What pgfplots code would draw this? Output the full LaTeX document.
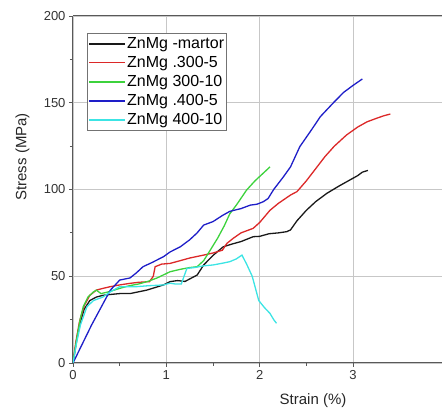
\documentclass[border=0pt]{standalone}
\usepackage{pgfplots}
\pgfplotsset{compat=1.18}
\usepackage{fontspec}
\setmainfont{Liberation Sans}

\definecolor{cMart}{RGB}{25,25,25}
\definecolor{cRed}{RGB}{220,40,40}
\definecolor{cGreen}{RGB}{60,210,60}
\definecolor{cBlue}{RGB}{30,30,200}
\definecolor{cCyan}{RGB}{60,228,228}

\begin{document}
\begin{tikzpicture}
\begin{axis}[
    scale only axis,
    width=368.7pt, height=347pt,
    xmin=0, xmax=3.95, ymin=0, ymax=200,
    xtick={0,1,2,3}, ytick={0,50,100,150,200},
    minor x tick num=1, minor y tick num=1,
    axis x line=box, axis y line=left,
    axis line style={-, draw=black!65, line width=1pt},
    tick align=outside, xtick pos=bottom,
    major tick length=4pt, minor tick length=3pt,
    every tick/.style={draw=black!65, line width=0.8pt},
    grid=major,
    major grid style={draw=black!22, line width=0.9pt},
    tick label style={font=\fontsize{13}{15}\selectfont, text=black!80},
    /pgf/number format/assume math mode=true,
    xlabel={Strain (\%)}, ylabel={Stress (MPa)},
    label style={font=\fontsize{15}{18}\selectfont, text=black!85},
    xlabel style={at={(rel axis cs:0.651,-0.108)}, anchor=center},
    ylabel style={at={(rel axis cs:-0.137,0.594)}, anchor=center},
    legend style={at={(rel axis cs:0.038,0.951)}, anchor=north west,
      draw=black!55, line width=0.8pt, inner xsep=1pt, inner ysep=1pt,
      font=\fontsize{16}{19}\selectfont,
      nodes={inner xsep=1.5pt, inner ysep=3.2pt}},
    legend cell align=left,
    legend image code/.code={\draw[#1, line width=1.3pt] (0pt,0pt) -- (36pt,0pt);},
    every axis plot/.append style={line width=1.3pt},
]
\addplot[color=cMart] coordinates {
(0,0)(0.03,10)(0.07,22)(0.12,31)(0.18,36)(0.25,38)(0.32,39)(0.4,39.5)
(0.5,40)(0.61,40)(0.7,41)(0.79,42)(0.88,43.5)(0.97,45)(1.04,46.9)
(1.12,47.5)(1.2,47)(1.27,49)(1.33,50.7)(1.4,56.5)(1.5,62)(1.61,67)
(1.7,68.5)(1.8,70)(1.93,72.8)(2.0,73)(2.1,74.5)(2.2,75)(2.29,75.7)
(2.33,76.7)(2.4,82)(2.5,88)(2.6,93)(2.72,97.8)(2.85,102)(2.95,105)
(3.05,108)(3.1,110)(3.16,111)};
\addlegendentry{ZnMg -martor}
\addplot[color=cRed] coordinates {
(0,0)(0.03,12)(0.07,24)(0.12,33)(0.18,39)(0.25,42)(0.32,43)(0.4,44)
(0.5,45)(0.61,45.9)(0.7,46.5)(0.82,46.9)(0.86,50)(0.88,55.5)(0.95,57)
(1.04,57.4)(1.15,59)(1.25,60.5)(1.4,62.2)(1.5,63.4)(1.6,65)(1.65,69)
(1.72,72)(1.8,75)(1.93,77.6)(2.0,81)(2.11,88)(2.2,92)(2.33,96.8)
(2.4,98.8)(2.5,105)(2.6,112)(2.7,119)(2.8,125)(2.93,131.4)(3.05,136)
(3.15,139)(3.25,141)(3.33,142.5)(3.4,143.5)};
\addlegendentry{ZnMg .300-5}
\addplot[color=cGreen] coordinates {
(0,0)(0.04,14)(0.08,26)(0.11,32.5)(0.16,38)(0.22,41)(0.25,42)(0.3,40)
(0.38,41)(0.5,43)(0.6,44.5)(0.7,45.5)(0.8,47)(0.9,49)(1.04,52.6)
(1.15,54)(1.25,55)(1.33,55.5)(1.4,59)(1.47,65)(1.55,72)(1.62,79)
(1.68,86)(1.75,91)(1.86,99.7)(1.95,105)(2.03,109)(2.11,113)};
\addlegendentry{ZnMg 300-10}
\addplot[color=cBlue] coordinates {
(0,0)(0.1,11)(0.2,22)(0.3,32)(0.4,42)(0.47,46)(0.5,47.8)(0.61,49)
(0.68,52)(0.75,55.5)(0.85,58)(0.97,61.3)(1.04,64)(1.15,67)(1.25,71)
(1.33,75)(1.4,79.5)(1.5,81.5)(1.6,85)(1.68,87.4)(1.8,89)(1.9,91)
(1.97,91.5)(2.04,93)(2.09,94.8)(2.15,100)(2.25,107)(2.33,113)
(2.43,124.7)(2.55,134)(2.65,142)(2.79,150)(2.9,156)(3.0,160)(3.1,163.7)};
\addlegendentry{ZnMg .400-5}
\addplot[color=cCyan] coordinates {
(0,0)(0.04,12)(0.08,22)(0.15,32.5)(0.22,36)(0.32,38)(0.4,41)(0.5,44)
(0.6,44)(0.68,44)(0.8,44.5)(0.97,45)(1.04,46)(1.1,45.5)(1.16,45.5)
(1.22,54.5)(1.3,55)(1.4,56)(1.5,56.5)(1.6,57.5)(1.68,58.4)(1.75,60)
(1.81,62.2)(1.86,57)(1.92,50)(1.99,36)(2.05,32)(2.11,28.6)(2.15,25)
(2.18,22.9)};
\addlegendentry{ZnMg 400-10}
\end{axis}
\pgfresetboundingbox
\path ([xshift=-73pt,yshift=-49pt]current axis.south west)
  rectangle ([xshift=0.3pt,yshift=16pt]current axis.north east);
\end{tikzpicture}
\end{document}
